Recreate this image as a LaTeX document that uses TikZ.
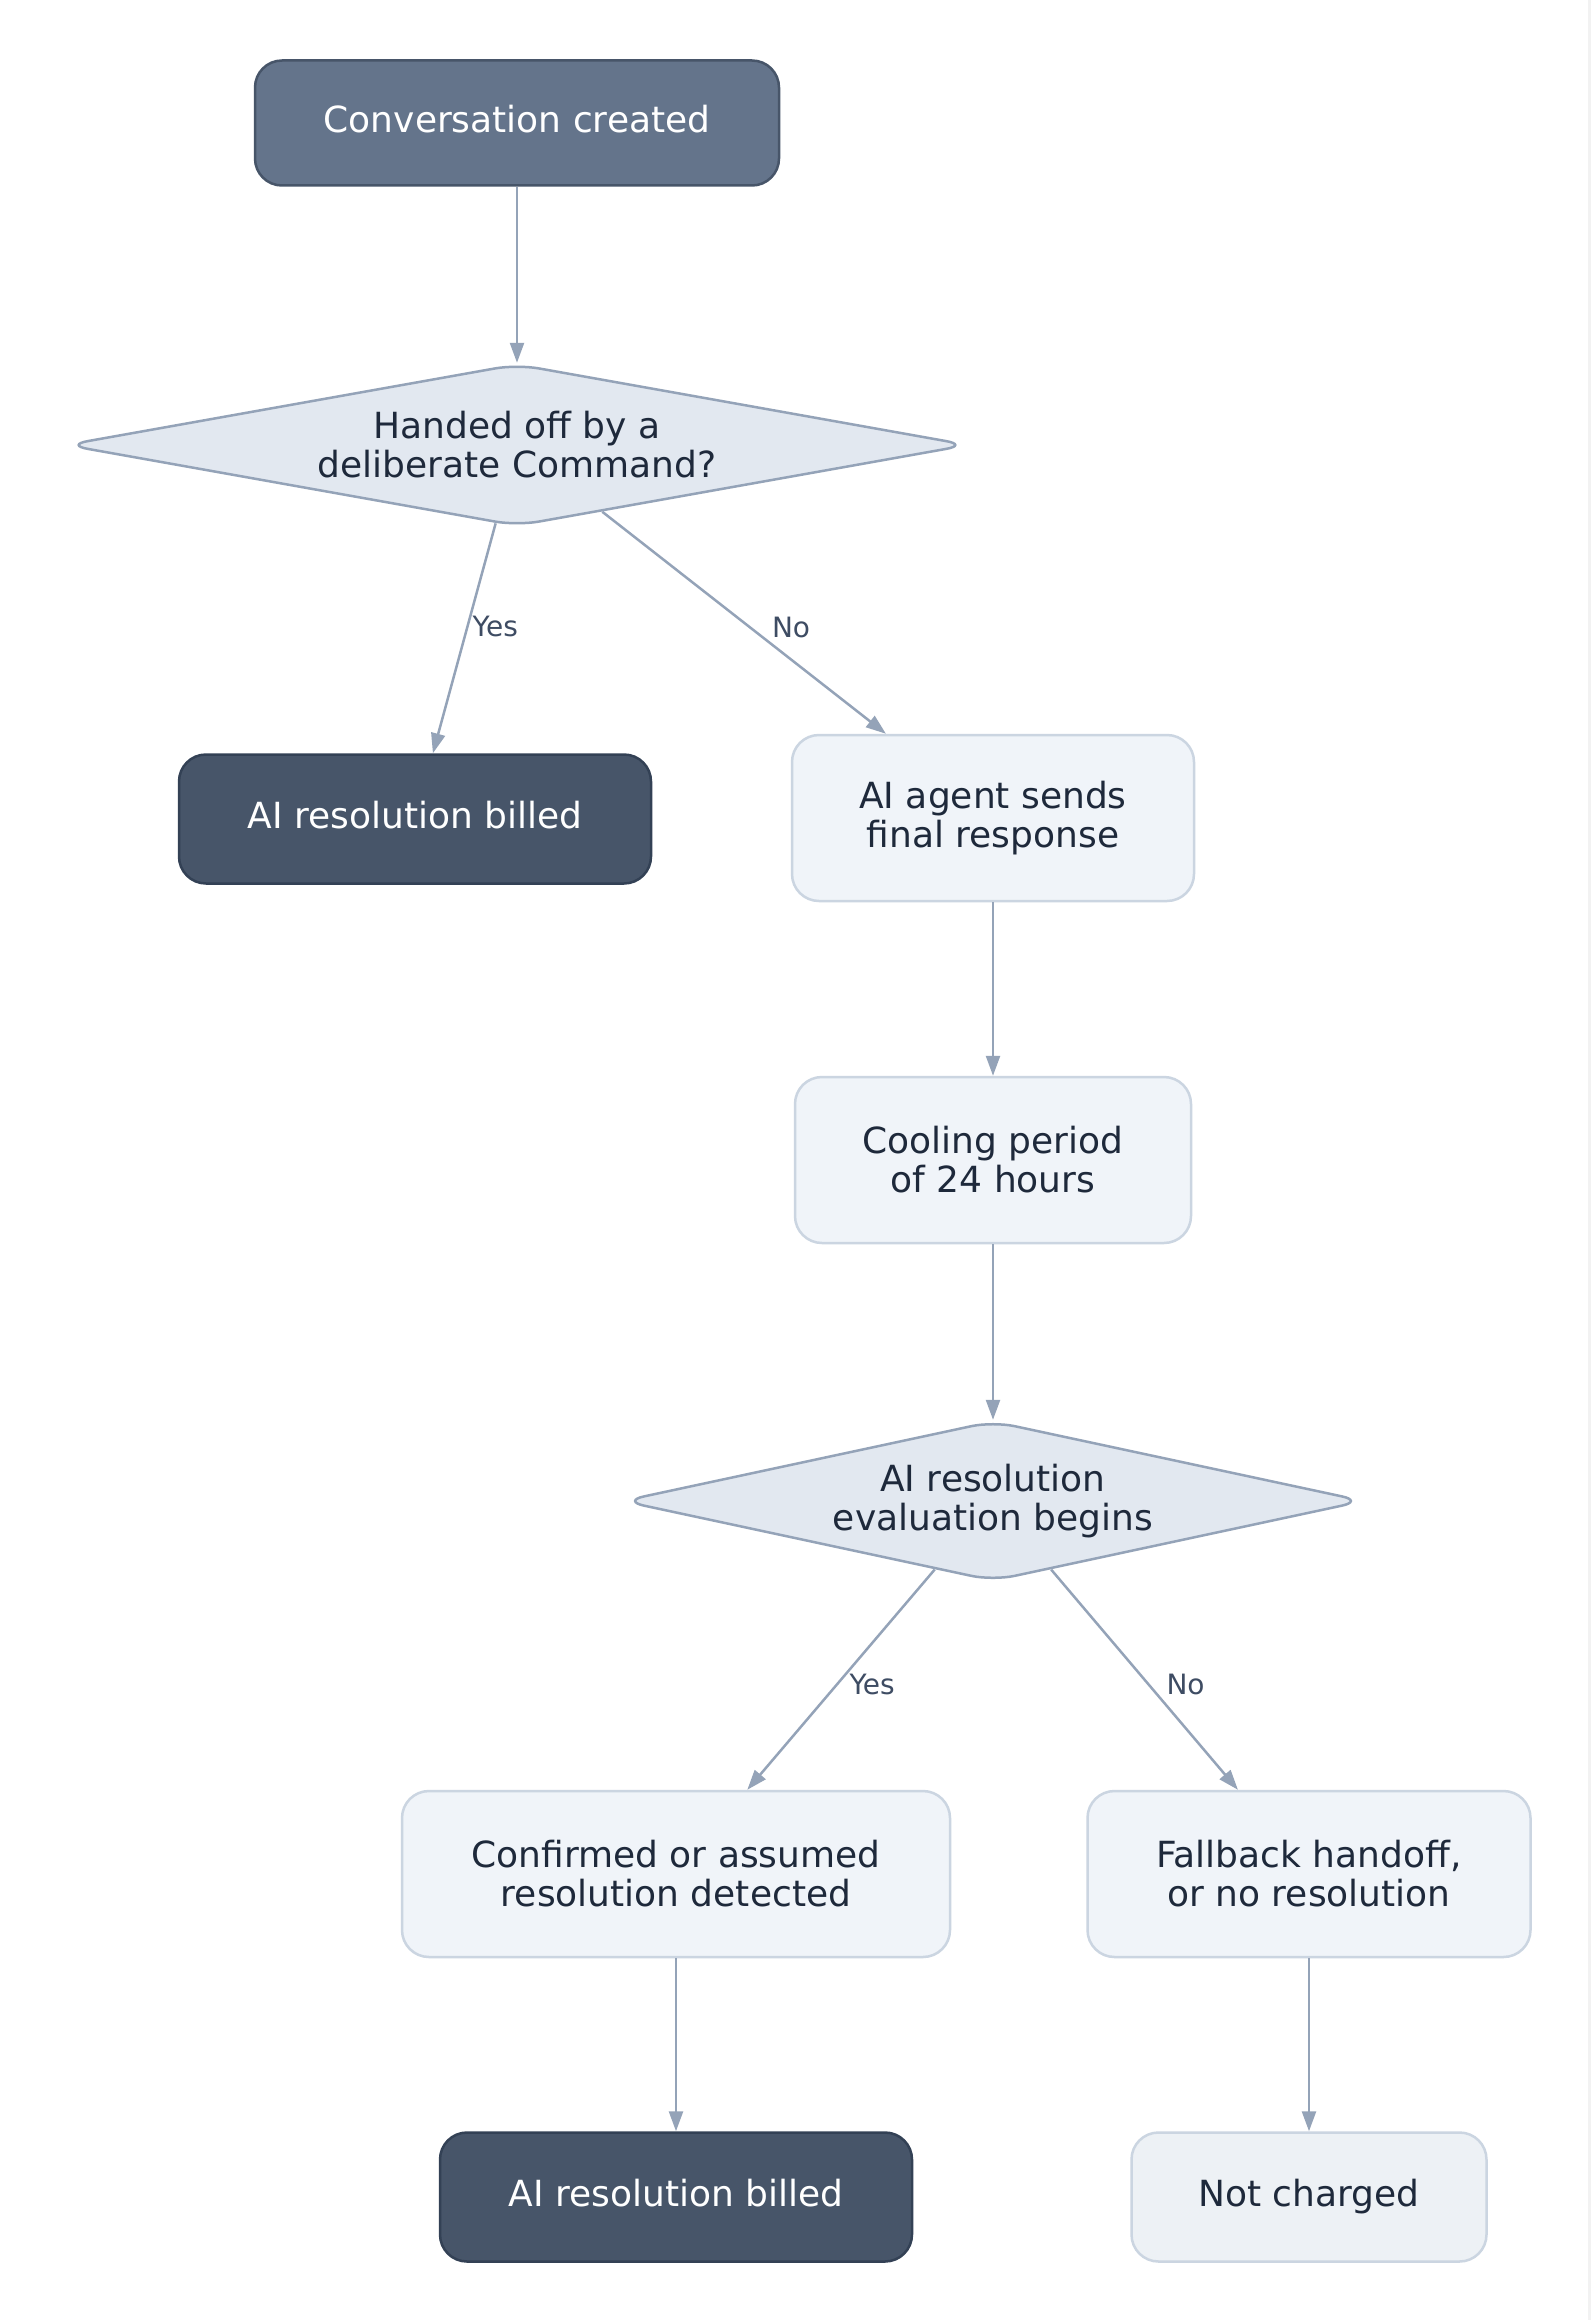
\documentclass[tikz,border=0pt]{standalone}
\usepackage{fontspec}
\setmainfont{DejaVu Sans}
\usetikzlibrary{shapes.geometric,arrows.meta}
\definecolor{lineC}{HTML}{94A3B8}
\definecolor{startC}{HTML}{64748B}
\definecolor{billC}{HTML}{475569}
\definecolor{billD}{HTML}{334155}
\definecolor{stepC}{HTML}{F0F4F9}
\definecolor{stepD}{HTML}{CBD5E1}
\definecolor{endC}{HTML}{EDF1F5}
\definecolor{askC}{HTML}{E2E8F0}
\definecolor{inkC}{HTML}{1E293B}
\definecolor{lblC}{HTML}{3E4C63}
\definecolor{edgeC}{HTML}{F2F2F2}

\begin{document}
\begin{tikzpicture}[x=1pt, y=-1pt,
  every node/.style={font=\fontsize{36}{39}\selectfont, align=center, inner sep=0pt, line width=2.5pt},
  startbox/.style={draw=billC, fill=startC, text=white, rounded corners=27pt, minimum height=125pt, text depth=8pt},
  billbox/.style={draw=billD, fill=billC, text=white, rounded corners=27pt, minimum width=472pt, minimum height=129pt, text depth=8pt},
  stepbox/.style={draw=stepD, fill=stepC, text=inkC, rounded corners=27pt, minimum height=166pt},
  endbox/.style={draw=stepD, fill=endC, text=inkC, rounded corners=27pt, minimum height=129pt, text depth=8pt},
  decision/.style={diamond, draw=lineC, fill=askC, text=inkC, rounded corners=22pt},
  flow/.style={draw=lineC, line width=2.5pt, -{Triangle[length=20pt, width=14pt]}},
  lbl/.style={font=\fontsize{28}{30}\selectfont, text=lblC, anchor=west}]
\fill[white] (0,0) rectangle (1591,2320);
\fill[edgeC] (1588,0) rectangle (1591,2320);
\useasboundingbox (0,0) rectangle (1591,2320);
\node[startbox, minimum width=524pt] (Start) at (517,123) {Conversation created};
\node[decision, aspect=5.6, minimum width=903pt, minimum height=162pt] (Ask1) at (517,445) {Handed off by a\\deliberate Command?};
\node[billbox] (Billed1) at (415,819) {AI resolution billed};
\node[stepbox, minimum width=402pt] (Agent) at (993,818) {AI agent sends\\final response};
\node[stepbox, minimum width=396pt] (Cool) at (993,1160) {Cooling period\\of 24 hours};
\node[decision, aspect=4.6, minimum width=742pt, minimum height=160pt] (Ask2) at (993,1501) {AI resolution\\evaluation begins};
\node[stepbox, minimum width=548pt] (Resolved) at (676,1874) {Confirmed or assumed\\resolution detected};
\node[stepbox, minimum width=443pt] (Fallback) at (1309,1874) {Fallback handoff,\\or no resolution};
\node[billbox] (Billed2) at (676,2197) {AI resolution billed};
\node[endbox, minimum width=355pt] (Free) at (1309,2197) {Not charged};
\draw[flow] (Start) -- (Ask1);
\draw[flow] (Ask1) -- node[lbl, pos=.45, xshift=4pt] {Yes} (Billed1);
\draw[flow] (Ask1) -- node[lbl, pos=.52, xshift=21pt] {No} (Agent);
\draw[flow] (Agent) -- (Cool);
\draw[flow] (Cool) -- (Ask2);
\draw[flow] (Ask2) -- node[lbl, pos=.52, xshift=11pt] {Yes} (Resolved);
\draw[flow] (Ask2) -- node[lbl, pos=.52, xshift=17pt] {No} (Fallback);
\draw[flow] (Resolved) -- (Billed2);
\draw[flow] (Fallback) -- (Free);
\end{tikzpicture}
\end{document}
